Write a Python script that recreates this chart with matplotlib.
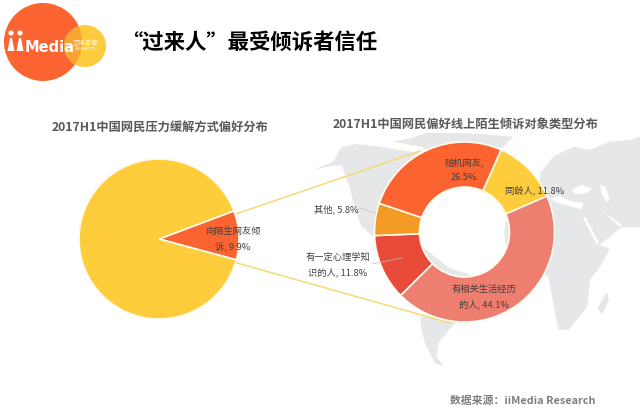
import matplotlib
matplotlib.use('Agg')
import matplotlib.pyplot as plt
from matplotlib.patches import Circle, Polygon

plt.rcParams['font.family'] = ['Noto Sans CJK SC', 'DejaVu Sans']

# values
left_labels = ['向陌生网友倾\n诉, 9.9%', '']
left_values = [9.9, 90.1]
left_colors = ['#FB6430', '#FFCD3C']

right_labels = ['同龄人, 11.8%', '有相关生活经历\n的人, 44.1%', '有一定心理学知\n识的人, 11.8%', '其他, 5.8%', '随机网友,\n26.5%']
right_values = [11.8, 44.1, 11.8, 5.8, 26.5]
right_colors = ['#FFCD3C', '#EE7F70', '#E84B3A', '#F39C25', '#FB6430']

W, H = 640, 413
fig = plt.figure(figsize=(W / 100, H / 100), dpi=100)

# full-figure axes in pixel coordinates for the decoration and text
bg = fig.add_axes([0, 0, 1, 1], zorder=0)
bg.set_xlim(0, W)
bg.set_ylim(H, 0)
bg.axis('off')


def zoomed(pts, x0, y0):
    return [(x0 + x / 3, y0 + y / 3) for x, y in pts]


MAP = '#E6E7E8'
north_america = zoomed([(125, 122), (190, 95), (215, 50), (260, 42), (330, 50), (400, 62), (470, 70), (560, 100),
                        (440, 250), (440, 330), (465, 355), (500, 385), (540, 415), (590, 430), (610, 445),
                        (530, 470), (400, 400), (310, 320), (275, 290), (255, 240), (240, 175), (215, 105),
                        (170, 110)], 270, 130)
greenland = zoomed([(370, 35), (420, 25), (470, 8), (600, 10), (730, 20), (700, 50), (640, 100), (560, 95), (450, 50)], 270, 130)
south_america = zoomed([(450, 560), (500, 560), (580, 560), (545, 590), (505, 640), (500, 680), (522, 710),
                        (495, 700), (465, 640), (455, 600)], 270, 130)
old_world = zoomed([(300, 130), (340, 80), (400, 50), (450, 60), (510, 35), (570, 30), (600, 20), (600, 292), (545, 292),
                    (478, 345), (510, 355), (480, 410), (450, 450), (442, 530), (385, 600), (355, 600), (340, 520),
                    (325, 440), (290, 420), (215, 360), (198, 345), (192, 310), (197, 275), (215, 250), (300, 210)], 440, 130)
madagascar = zoomed([(500, 485), (507, 510), (487, 552), (472, 535)], 440, 130)
for pts in [north_america, greenland, south_america, old_world, madagascar]:
    bg.add_patch(Polygon(pts, closed=True, fc=MAP, ec='none'))
# inland seas
black_sea = zoomed([(395, 180), (425, 165), (455, 175), (440, 190), (405, 192)], 440, 130)
caspian = zoomed([(480, 165), (495, 170), (510, 210), (498, 215), (485, 190)], 440, 130)
red_sea = zoomed([(428, 262), (436, 262), (478, 340), (470, 343)], 440, 130)
gulf = zoomed([(495, 250), (505, 255), (548, 287), (535, 287)], 440, 130)
med = zoomed([(330, 207), (360, 198), (395, 215), (430, 218), (425, 238), (352, 218)], 440, 130)
for pts in [black_sea, caspian, red_sea, gulf, med]:
    bg.add_patch(Polygon(pts, closed=True, fc='white', ec='none'))

# connector lines between the two pies
bg.plot([233, 420], [215, 151], color='#F6D977', lw=1.1)
bg.plot([237, 450], [263, 323], color='#F6D977', lw=1.1)

# logo
red_circle = Circle((43, 42), 39, fc='#FB6430', ec='none')
bg.add_patch(red_circle)
bg.add_patch(Circle((85, 46), 21, fc='#FDCB3E', ec='none'))
overlap = Circle((85, 46), 21, fc='#F9A332', ec='none')
bg.add_patch(overlap)
overlap.set_clip_path(red_circle)
for px in [11, 20]:
    bg.add_patch(Circle((px, 33), 2.6, fc='white', ec='none'))
    bg.add_patch(Polygon([(px - 3.5, 51), (px + 3.5, 51), (px + 1, 38), (px - 1, 38)], closed=True, fc='white', ec='none'))
bg.text(25, 47, 'Media', color='white', fontsize=10.5, fontweight='bold', va='center', family='DejaVu Sans')
bg.text(85, 43, '艾媒咨询', color='white', fontsize=4.5, ha='center', va='center')
bg.text(85, 49, 'Research', color='white', fontsize=3.5, ha='center', va='center')

# titles
bg.text(249.5, 42, '“过来人”最受倾诉者信任', color='black', fontsize=15.4, fontweight='bold', ha='center', va='center')
bg.text(160, 127, '2017H1中国网民压力缓解方式偏好分布', color='#595959', fontsize=8.8, fontweight='bold', ha='center', va='center')
bg.text(466, 125, '2017H1中国网民偏好线上陌生倾诉对象类型分布', color='#595959', fontsize=8.8, fontweight='bold', ha='center', va='center')
bg.text(522.5, 401, '数据来源：iiMedia Research', color='#7F7F7F', fontsize=7.8, fontweight='bold', ha='center', va='center')


def pie_axes(cx, cy, r):
    ax = fig.add_axes([(cx - r) / W, 1 - (cy + r) / H, 2 * r / W, 2 * r / H], zorder=1)
    ax.patch.set_alpha(0)
    return ax


# left pie
ax1 = pie_axes(159, 239, 80)
ax1.pie(left_values, colors=left_colors, startangle=-15.1, radius=1,
        wedgeprops={'edgecolor': '#FFFBEF', 'linewidth': 1.2})
ax1.set_xlim(-1, 1)
ax1.set_ylim(-1, 1)

# right donut, clockwise from the top right
ax2 = pie_axes(464.5, 232, 90)
ax2.pie(right_values, colors=right_colors, startangle=66, counterclock=False, radius=1,
        wedgeprops={'width': 0.5, 'edgecolor': '#FFFBEF', 'linewidth': 1.2})
ax2.set_xlim(-1, 1)
ax2.set_ylim(-1, 1)

# labels sit on top of the pies
top = fig.add_axes([0, 0, 1, 1], zorder=2)
top.set_xlim(0, W)
top.set_ylim(H, 0)
top.axis('off')
top.patch.set_alpha(0)

label_pos = [(535, 190), (484, 297), (338, 265), (336, 209), (464, 169.5)]
for text, (x, y) in zip(right_labels, label_pos):
    top.text(x, y, text, color='#404040', fontsize=6.7, ha='center', va='center', linespacing=1.85)
top.text(233, 239.5, left_labels[0], color='#404040', fontsize=6.7, ha='center', va='center', linespacing=1.85)

top.plot([359, 376], [208, 213], color='#BFBFBF', lw=0.5)
top.plot([372, 402], [264, 258], color='#BFBFBF', lw=0.5)

fig.savefig('out.png', dpi=100)
